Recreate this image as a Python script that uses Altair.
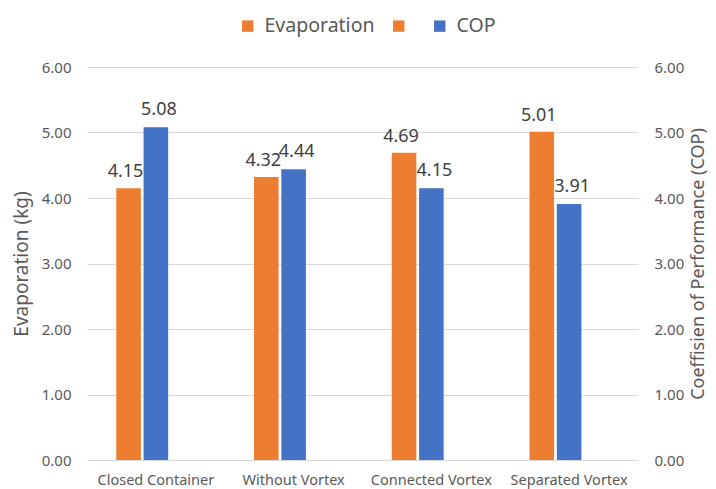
import altair as alt
import pandas as pd

categories = ["Closed Container", "Without Vortex", "Connected Vortex", "Separated Vortex"]
evaporation = [4.15, 4.32, 4.69, 5.01]
cop = [5.08, 4.44, 4.15, 3.91]
y_ticks = [0, 1, 2, 3, 4, 5, 6]

legend_domain = ["Evaporation", " ", "COP"]
legend_range = ["#ED7D31", "#ED7D31", "#4472C4"]
offset_domain = ["Evaporation", "COP", "pad"]

rows = []
for c, e, p in zip(categories, evaporation, cop):
    rows.append({"category": c, "series": "Evaporation", "value": e})
    rows.append({"category": c, "series": "COP", "value": p})
df = pd.DataFrame(rows)

FONT = "Noto Sans"
GRAY = "#595959"

x_enc = alt.X(
    "category:N",
    sort=categories,
    scale=alt.Scale(paddingInner=0.425, paddingOuter=0.2125),
    axis=alt.Axis(
        title=None, labelAngle=0, ticks=False, labelPadding=13,
        labelFontSize=14.5, labelColor=GRAY, labelFont=FONT,
        domainColor="#d9d9d9", domainWidth=1,
    ),
)
xoff_enc = alt.XOffset(
    "series:N",
    scale=alt.Scale(domain=offset_domain, paddingInner=0.1, paddingOuter=0),
)
color_enc = alt.Color(
    "series:N",
    scale=alt.Scale(domain=legend_domain, range=legend_range),
    legend=alt.Legend(
        title=None, orient="none", legendX=151, legendY=-51,
        direction="horizontal", symbolType="square", symbolSize=130,
        symbolStrokeWidth=0, labelFontSize=19.5, labelColor=GRAY,
        labelFont=FONT, labelOffset=7, columnPadding=14, padding=0,
    ),
)

y_left = alt.Y(
    "value:Q",
    scale=alt.Scale(domain=[0, 6]),
    axis=alt.Axis(
        values=y_ticks, format=".2f", title="Evaporation (kg)",
        grid=True, gridColor="#d9d9d9", ticks=False, domain=False,
        labelPadding=16, labelFontSize=15, labelColor=GRAY, labelFont=FONT,
        titleFontSize=19, titleColor=GRAY, titleFont=FONT,
        titleFontWeight="normal", titlePadding=10,
    ),
)
y_right = alt.Y(
    "value:Q",
    scale=alt.Scale(domain=[0, 6]),
    axis=alt.Axis(
        orient="right", values=y_ticks, format=".2f",
        title="Coeffisien of Performance (COP)",
        grid=False, ticks=False, domain=False,
        labelPadding=16, labelFontSize=15, labelColor=GRAY, labelFont=FONT,
        titleFontSize=18, titleColor=GRAY, titleFont=FONT,
        titleFontWeight="normal", titlePadding=6, titleAngle=270,
        titleBaseline="top",
    ),
)

base = alt.Chart(df).encode(x=x_enc, xOffset=xoff_enc)

evap = base.transform_filter(alt.datum.series == "Evaporation")
copc = base.transform_filter(alt.datum.series == "COP")

evap_layer = alt.layer(
    evap.mark_bar().encode(y=y_left, color=color_enc),
    evap.mark_text(baseline="alphabetic", dx=-3, dy=-11, fontSize=18, font=FONT, color="#404040").encode(
        y=y_left, text=alt.Text("value:Q", format=".2f")
    ),
)
cop_layer = alt.layer(
    copc.mark_bar().encode(y=y_right, color=color_enc),
    copc.mark_text(baseline="alphabetic", dx=3, dy=-12, fontSize=18, font=FONT, color="#404040").encode(
        y=y_right, text=alt.Text("value:Q", format=".2f")
    ),
)

chart = (
    alt.layer(evap_layer, cop_layer)
    .resolve_scale(y="independent")
    .properties(
        width=551, height=393,
        padding={"left": 79, "top": 59, "right": 70, "bottom": 30},
        autosize=alt.AutoSizeParams(type="none"),
        background="white",
    )
    .configure_view(stroke=None)
)

chart.save("out.html", embed_options={"renderer": "svg", "actions": False})
